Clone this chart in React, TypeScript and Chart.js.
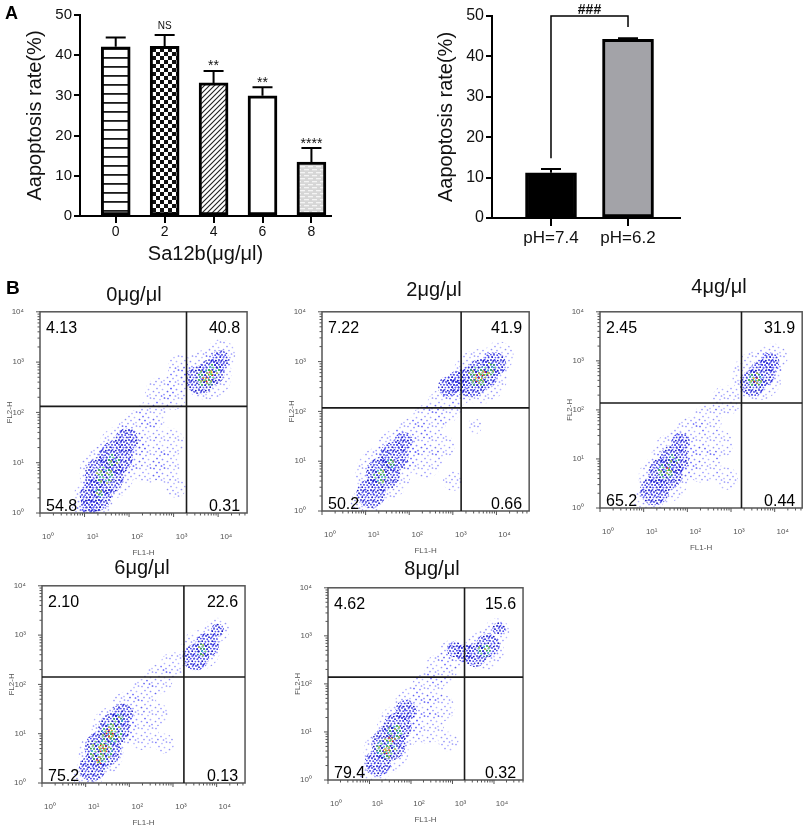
import React, { useEffect, useRef } from "react";
import { Chart, registerables } from "chart.js";
Chart.register(...registerables);

// ---------------- Panel A data ----------------
const doseLabels = ["0", "2", "4", "6", "8"];
const doseMeans = [42.1, 42.2, 33.1, 29.9, 13.4];
const doseSD = [2.3, 2.8, 3.0, 2.1, 3.5];
const doseSig = ["", "NS", "**", "**", "****"];
const phLabels = ["pH=7.4", "pH=6.2"];
const phMeans = [11.2, 44.2];
const phSD = [0.9, 0.3];
const phBracketLevels = [50, 14.8, 47.3]; // bracket height, left leg end, right leg end
const phBracketText = "###";

// ---------------- Panel B data (log10 units) ----------------
const flowTitles = ["0μg/μl", "2μg/μl", "4μg/μl", "6μg/μl", "8μg/μl"];
const gateFL1 = [3.29, 3.19, 3.24, 3.25, 3.29];
const gateFL2 = [2.12, 2.07, 2.14, 2.15, 2.14];
const pctUL = ["4.13", "7.22", "2.45", "2.10", "4.62"];
const pctUR = ["40.8", "41.9", "31.9", "22.6", "15.6"];
const pctLL = ["54.8", "50.2", "65.2", "75.2", "79.4"];
const pctLR = ["0.31", "0.66", "0.44", "0.13", "0.32"];

// cloud regions: [FL1 log, FL2 log, radius]
const cloudSparse = [
  [[1.2,0.3,16],[1.5,0.8,22],[1.85,1.25,20],[2.2,1.65,16],[2.5,1.95,12],[2.4,1.0,16],[2.8,0.9,12],[2.9,1.4,12],[3.0,2.3,10],[3.1,2.65,10],[1.0,0.1,10],[3.05,0.5,8],[2.7,2.4,12],[3.15,2.9,10],[3.75,2.75,20],[4.05,3.15,12]],
  [[1.0,0.15,12],[1.4,0.75,22],[1.75,1.2,18],[2.1,1.5,15],[2.45,1.8,14],[2.8,2.1,14],[3.1,2.4,12],[2.35,1.0,14],[2.75,1.3,10],[3.0,0.6,8],[3.62,2.7,22],[4.05,3.1,12],[3.5,1.7,6]],
  [[1.1,0.15,12],[1.45,0.6,20],[1.75,1.05,20],[2.05,1.5,14],[2.45,1.8,12],[2.9,2.2,12],[2.35,0.9,15],[2.7,1.3,12],[2.9,0.6,9],[3.6,2.7,20],[3.95,3.05,12]],
  [[1.05,0.15,12],[1.35,0.6,18],[1.65,1.1,18],[1.95,1.5,14],[2.3,1.8,12],[2.65,2.1,12],[3.0,2.4,10],[2.3,1.0,13],[2.6,1.4,10],[2.8,0.8,8],[3.62,2.7,16],[4.0,3.1,10]],
  [[1.1,0.15,12],[1.4,0.6,18],[1.72,1.1,18],[2.05,1.55,15],[2.4,1.9,13],[2.72,2.3,13],[3.0,2.6,12],[2.4,1.1,13],[2.72,1.5,11],[2.9,0.8,8],[3.76,2.7,16],[4.07,3.1,10]],
];
const cloudDense = [
  [[1.25,0.35,12],[1.45,0.75,15],[1.7,1.1,13],[1.95,1.45,9],[1.15,0.15,8],[3.6,2.65,11],[3.85,2.8,10],[4.05,3.05,7]],
  [[1.12,0.35,11],[1.4,0.75,13],[1.65,1.1,11],[1.87,1.4,7],[2.9,2.5,8],[3.1,2.6,8],[3.42,2.6,12],[3.68,2.75,12],[3.95,2.95,9]],
  [[1.25,0.35,11],[1.5,0.7,13],[1.7,1.0,11],[1.85,1.35,7],[3.5,2.55,10],[3.72,2.75,10],[3.9,2.98,7]],
  [[1.15,0.3,10],[1.4,0.7,14],[1.65,1.1,12],[1.85,1.4,8],[3.52,2.55,10],[3.78,2.8,9],[4.02,3.1,5]],
  [[1.2,0.35,10],[1.46,0.75,13],[1.67,1.1,11],[1.88,1.45,8],[3.05,2.72,6],[3.3,2.64,7],[3.55,2.6,9],[3.85,2.8,9],[4.12,3.15,5]],
];
const cloudCore = [
  [[1.45,0.75,7],[1.65,1.05,5],[1.3,0.4,4],[3.72,2.68,7],[3.9,2.85,5]],
  [[1.35,0.7,6],[1.55,0.95,4],[3.58,2.7,8],[3.85,2.85,5]],
  [[1.5,0.75,6],[1.7,1.0,4],[3.55,2.62,6]],
  [[1.35,0.65,9],[1.6,1.0,8],[1.75,1.3,4],[3.67,2.7,5]],
  [[1.41,0.65,8],[1.62,1.0,6],[3.76,2.7,5]],
];
const cloudHot = [
  [[3.72,2.66,3],[3.85,2.78,2.5]],
  [[3.58,2.68,4],[3.74,2.75,3]],
  [[3.55,2.6,3],[1.55,0.8,2]],
  [[1.4,0.7,4],[1.55,1.0,4],[1.3,0.45,3]],
  [[1.41,0.6,3],[1.52,0.85,3]],
];

// ---------------- layout / style ----------------
const FLOW_BOX = [
  { left: 40, top: 304, w: 210, h: 209, xMax: 4.65, tx: 134, ty: 294 },
  { left: 322, top: 304, w: 210, h: 207, xMax: 4.75, tx: 434, ty: 289 },
  { left: 600, top: 304, w: 206, h: 204, xMax: 4.63, tx: 719, ty: 286 },
  { left: 42, top: 578, w: 206, h: 205, xMax: 4.65, tx: 142, ty: 567 },
  { left: 328, top: 580, w: 200, h: 200, xMax: 4.7, tx: 432, ty: 568 },
];
const LAYER_SCALE = { sparse: 1.25, dense: 1.32, core: 1.3, hot: 1.2 };
const SUP = ["⁰", "¹", "²", "³", "⁴"];

// speckle tiles (style)
const DOT_POS_10 = [[1, 1], [4.5, 0.8], [7.8, 1.6], [2.6, 3.4], [6, 3], [9, 4.2], [0.8, 5.6], [4, 5.8], [7.2, 6.2], [2.2, 8.2], [5.4, 8.6], [8.6, 8.4], [3.3, 1.9]];
const DENSE_COLS = ["#2a2ad6", "#4a4af2", "#1c1cc0", "#6262f8", "#3b3be0", "#2020cc", "#5050ee"];
const CORE_COLS = ["#3cd23c", "#2a2ad8", "#40c8d0", "#70e070", "#1c1cc0", "#c8e040", "#38b838"];
const SPARSE_POS = [[2, 1.5], [8, 2.5], [12.5, 1], [5, 5.5], [10.5, 6.5], [1.5, 8.5], [7, 9.5], [12, 11.5], [4, 12.5], [9.5, 13]];

function makePattern(w: number, h: number, draw: (g: CanvasRenderingContext2D) => void) {
  const c = document.createElement("canvas");
  c.width = w;
  c.height = h;
  const g = c.getContext("2d")!;
  draw(g);
  return g.createPattern(c, "repeat")!;
}

function dotTile(w: number, h: number, pos: number[][], cols: string[], r: number) {
  return makePattern(w, h, (g) => {
    pos.forEach(([x, y], j) => {
      g.fillStyle = cols[j % cols.length];
      g.beginPath();
      g.arc(x, y, r, 0, Math.PI * 2);
      g.fill();
    });
  });
}

function barPatterns() {
  const stripes = makePattern(8, 9, (g) => {
    g.fillStyle = "#fff"; g.fillRect(0, 0, 8, 9);
    g.fillStyle = "#1a1a1a"; g.fillRect(0, 3, 8, 1.8);
  });
  const checker = makePattern(8, 8, (g) => {
    g.fillStyle = "#fff"; g.fillRect(0, 0, 8, 8);
    g.fillStyle = "#111"; g.fillRect(0, 0, 4, 4); g.fillRect(4, 4, 4, 4);
  });
  const diag = makePattern(5, 5, (g) => {
    g.fillStyle = "#fff"; g.fillRect(0, 0, 5, 5);
    g.strokeStyle = "#222"; g.lineWidth = 1.1;
    g.beginPath();
    g.moveTo(-1, 6); g.lineTo(6, -1);
    g.moveTo(-1, 1); g.lineTo(1, -1);
    g.moveTo(4, 6); g.lineTo(6, 4);
    g.stroke();
  });
  const brick = makePattern(8, 6, (g) => {
    g.fillStyle = "#d6d6d6"; g.fillRect(0, 0, 8, 6);
    g.fillStyle = "#f4f4f4";
    g.fillRect(0, 1, 5, 1.3); g.fillRect(4, 4, 4, 1.3); g.fillRect(0, 4, 1, 1.3);
  });
  return [stripes, checker, diag, "#ffffff", brick];
}

function errorPlugin(means: number[], sds: number[], sig: string[] | null) {
  return {
    id: "errbars",
    afterDatasetsDraw(chart: any) {
      const { ctx } = chart;
      const x = chart.scales.x, y = chart.scales.y;
      ctx.save();
      ctx.strokeStyle = "#000";
      ctx.lineWidth = 2;
      means.forEach((m, i) => {
        const px = x.getPixelForValue(i);
        const y0 = y.getPixelForValue(m);
        const y1 = y.getPixelForValue(m + sds[i]);
        ctx.beginPath();
        ctx.moveTo(px, y0); ctx.lineTo(px, y1);
        ctx.moveTo(px - 10, y1); ctx.lineTo(px + 10, y1);
        ctx.stroke();
        if (sig && sig[i]) {
          const star = sig[i].includes("*");
          ctx.font = star ? "14px Arial" : "10px Arial";
          ctx.fillStyle = "#111";
          ctx.textAlign = "center";
          ctx.textBaseline = "alphabetic";
          ctx.fillText(sig[i], px, star ? y1 - 0.5 : y1 - 6.5);
        }
      });
      ctx.restore();
    },
  };
}

const bracketPlugin = {
  id: "bracket",
  afterDatasetsDraw(chart: any) {
    const { ctx } = chart;
    const x = chart.scales.x, y = chart.scales.y;
    const x0 = x.getPixelForValue(0), x1 = x.getPixelForValue(1);
    const yb = y.getPixelForValue(phBracketLevels[0]);
    ctx.save();
    ctx.strokeStyle = "#000";
    ctx.lineWidth = 1.5;
    ctx.beginPath();
    ctx.moveTo(x0, y.getPixelForValue(phBracketLevels[1]));
    ctx.lineTo(x0, yb);
    ctx.lineTo(x1, yb);
    ctx.lineTo(x1, y.getPixelForValue(phBracketLevels[2]));
    ctx.stroke();
    ctx.font = "bold 14px Arial";
    ctx.fillStyle = "#111";
    ctx.textAlign = "center";
    ctx.textBaseline = "alphabetic";
    ctx.fillText(phBracketText, (x0 + x1) / 2, yb - 2);
    ctx.restore();
  },
};

function barConfig(opts: any) {
  const { labels, means, sds, colors, thickness, xMin, xMax, tickFont, labelFont, padding, yWidth, xHeight, xTitle, sig, extra, tickLen, xPad } = opts;
  return {
    type: "bar",
    data: {
      datasets: [
        {
          data: means.map((v: number, i: number) => ({ x: i, y: v })),
          backgroundColor: colors,
          borderColor: "#000",
          borderWidth: 3,
          borderSkipped: false,
          barThickness: thickness,
        },
      ],
    },
    options: {
      responsive: false,
      animation: false,
      events: [],
      layout: { padding, autoPadding: false },
      plugins: { legend: { display: false }, tooltip: { enabled: false } },
      scales: {
        x: {
          type: "linear",
          min: xMin,
          max: xMax,
          offset: false,
          afterBuildTicks: (s: any) => { s.ticks = labels.map((_: string, i: number) => ({ value: i })); },
          afterFit: (s: any) => { s.height = xHeight; },
          ticks: { autoSkip: false, maxRotation: 0, padding: xPad, color: "#111", font: { family: "Arial", size: labelFont }, callback: (v: number) => labels[v] ?? "" },
          grid: { drawOnChartArea: false, drawTicks: true, tickLength: tickLen, color: "#000", lineWidth: 2, offset: false },
          border: { display: true, color: "#000", width: 2 },
          title: xTitle
            ? { display: true, text: xTitle, color: "#111", font: { family: "Arial", size: 20 }, padding: { top: 0, bottom: 4 } }
            : { display: false },
        },
        y: {
          min: 0,
          max: 50,
          afterFit: (s: any) => { s.width = yWidth; },
          ticks: { stepSize: 10, padding: 2, color: "#111", font: { family: "Arial", size: tickFont } },
          grid: { drawOnChartArea: false, drawTicks: true, tickLength: 6, color: "#000", lineWidth: 2 },
          border: { display: true, color: "#000", width: 2 },
          title: { display: true, text: "Aapoptosis rate(%)", color: "#111", font: { family: "Arial", size: 20 }, padding: { top: opts.yTitlePad, bottom: 0 } },
        },
      },
    },
    plugins: [errorPlugin(means, sds, sig), ...(extra ? [extra] : [])],
  };
}

function DoseChart() {
  const ref = useRef<HTMLCanvasElement>(null);
  useEffect(() => {
    const chart = new Chart(ref.current!, barConfig({
      labels: doseLabels, means: doseMeans, sds: doseSD, colors: barPatterns(), thickness: 29,
      xMin: -0.73, xMax: 4.4, tickFont: 15, labelFont: 14, padding: { left: 20, top: 15, right: 14, bottom: 0 },
      yWidth: 60, xHeight: 54, xTitle: "Sa12b(μg/μl)", sig: doseSig, tickLen: 7, xPad: 1, yTitlePad: 3,
    }) as any);
    return () => chart.destroy();
  }, []);
  return <canvas ref={ref} width={345} height={270} style={{ position: "absolute", left: 0, top: 0 }} />;
}

function PhChart() {
  const ref = useRef<HTMLCanvasElement>(null);
  useEffect(() => {
    const chart = new Chart(ref.current!, barConfig({
      labels: phLabels, means: phMeans, sds: phSD, colors: ["#000000", "#a3a3a8"], thickness: 51,
      xMin: -0.766, xMax: 1.675, tickFont: 16, labelFont: 17, padding: { left: 22, top: 16, right: 10, bottom: 0 },
      yWidth: 60, xHeight: 40, xTitle: null, sig: null, extra: bracketPlugin, tickLen: 8, xPad: 2, yTitlePad: 2,
    }) as any);
    return () => chart.destroy();
  }, []);
  return <canvas ref={ref} width={280} height={258} style={{ position: "absolute", left: 410, top: 0 }} />;
}

function decadeTicks(max: number) {
  const t: { value: number }[] = [];
  for (let n = 0; n <= 4; n++) {
    for (let k = 1; k <= 9; k++) {
      const v = n + Math.log10(k);
      if (v <= max + 1e-9) t.push({ value: v });
    }
  }
  return t;
}

function decadeLabel(v: number) {
  return Number.isInteger(v) && v <= 4 ? "10" + SUP[v] : "";
}

function flowPlugin(i: number) {
  return {
    id: "flowdeco" + i,
    afterDatasetsDraw(chart: any) {
      const { ctx, chartArea: a } = chart;
      const x = chart.scales.x, y = chart.scales.y;
      ctx.save();
      ctx.strokeStyle = "#555";
      ctx.lineWidth = 1;
      ctx.beginPath();
      x.ticks.forEach((t: any) => {
        const px = x.getPixelForValue(t.value);
        const len = Number.isInteger(t.value) ? 4 : 2.5;
        ctx.moveTo(px, a.bottom); ctx.lineTo(px, a.bottom + len);
      });
      y.ticks.forEach((t: any) => {
        const py = y.getPixelForValue(t.value);
        const len = Number.isInteger(t.value) ? 4 : 2.5;
        ctx.moveTo(a.left, py); ctx.lineTo(a.left - len, py);
      });
      ctx.stroke();
      ctx.strokeStyle = "#555";
      ctx.lineWidth = 1.5;
      ctx.strokeRect(a.left, a.top, a.right - a.left, a.bottom - a.top);
      const gx = x.getPixelForValue(gateFL1[i]);
      const gy = y.getPixelForValue(gateFL2[i]);
      ctx.strokeStyle = "#1a1a1a";
      ctx.lineWidth = 1.6;
      ctx.beginPath();
      ctx.moveTo(gx, a.top); ctx.lineTo(gx, a.bottom);
      ctx.moveTo(a.left, gy); ctx.lineTo(a.right, gy);
      ctx.stroke();
      ctx.font = "16px Arial";
      ctx.fillStyle = "#000";
      ctx.textBaseline = "alphabetic";
      ctx.textAlign = "left";
      ctx.fillText(pctUL[i], a.left + 6, a.top + 21);
      ctx.fillText(pctLL[i], a.left + 6, a.bottom - 2.5);
      ctx.textAlign = "right";
      ctx.fillText(pctUR[i], a.right - 7, a.top + 21);
      ctx.fillText(pctLR[i], a.right - 7, a.bottom - 2.5);
      ctx.restore();
    },
  };
}

function FlowChart({ i }: { i: number }) {
  const ref = useRef<HTMLCanvasElement>(null);
  const box = FLOW_BOX[i];
  useEffect(() => {
    const sparse = dotTile(14, 14, SPARSE_POS, ["rgba(80,80,255,0.6)", "rgba(110,110,255,0.5)", "rgba(60,60,235,0.55)"], 0.85);
    const dense = dotTile(10, 10, DOT_POS_10, DENSE_COLS, 0.9);
    const core = dotTile(10, 10, DOT_POS_10, CORE_COLS, 0.9);
    const hot = dotTile(6, 6, [[1, 1], [3.8, 1.4], [1.6, 3.6], [4.6, 4.4], [3, 3]], ["#ff2a1a", "#ffc020", "#f0e23a", "#e83020", "#48c848"], 0.85);
    const ds = (arr: number[][], bg: any, k: number) => ({
      data: arr.map(([x, y, r]) => ({ x, y, r: r * k })),
      backgroundColor: bg,
      borderWidth: 0,
      borderColor: "rgba(0,0,0,0)",
      clip: 0,
    });
    const axisFont = { family: "Arial", size: 8 };
    const chart = new Chart(ref.current!, {
      type: "bubble",
      data: {
        datasets: [
          ds(cloudHot[i], hot, LAYER_SCALE.hot),
          ds(cloudCore[i], core, LAYER_SCALE.core),
          ds(cloudDense[i], dense, LAYER_SCALE.dense),
          ds(cloudSparse[i], sparse, LAYER_SCALE.sparse),
        ],
      },
      options: {
        responsive: false,
        animation: false,
        events: [],
        layout: { padding: { top: 5, right: 6, left: 0, bottom: 0 }, autoPadding: false },
        plugins: { legend: { display: false }, tooltip: { enabled: false } },
        scales: {
          x: {
            type: "linear",
            min: 0,
            max: box.xMax,
            afterBuildTicks: (s: any) => { s.ticks = decadeTicks(box.xMax); },
            afterFit: (s: any) => { s.height = 50; },
            ticks: { autoSkip: false, maxRotation: 0, padding: 11, labelOffset: 8, color: "#555", font: axisFont, callback: (v: number) => decadeLabel(v) },
            grid: { display: false },
            border: { display: false },
            title: { display: true, text: "FL1-H", color: "#555", font: axisFont, padding: { top: 0, bottom: 5 } },
          },
          y: {
            type: "linear",
            min: 0,
            max: 4,
            afterBuildTicks: (s: any) => { s.ticks = decadeTicks(4); },
            afterFit: (s: any) => { s.width = 42; },
            ticks: { autoSkip: false, padding: 8, color: "#555", font: axisFont, callback: (v: number) => decadeLabel(v) },
            grid: { display: false },
            border: { display: false },
            title: { display: true, text: "FL2-H", color: "#555", font: axisFont, padding: { top: 7, bottom: 0 } },
          },
        },
      },
      plugins: [flowPlugin(i)],
    } as any);
    return () => chart.destroy();
  }, []);
  return (
    <canvas
      ref={ref}
      width={box.w + 48}
      height={box.h + 55}
      style={{ position: "absolute", left: box.left - 42, top: box.top - 5 }}
    />
  );
}

export default function App() {
  return (
    <div
      style={{
        position: "absolute",
        left: 0,
        top: 0,
        width: 809,
        height: 829,
        overflow: "hidden",
        background: "#fff",
        fontFamily: "Arial, 'Liberation Sans', sans-serif",
      }}
    >
      <DoseChart />
      <PhChart />
      {FLOW_BOX.map((_, i) => (
        <FlowChart key={i} i={i} />
      ))}
      {FLOW_BOX.map((b, i) => (
        <div
          key={"t" + i}
          style={{ position: "absolute", left: b.tx, top: b.ty, transform: "translate(-50%,-50%)", fontSize: 20, lineHeight: 1, whiteSpace: "nowrap", color: "#111" }}
        >
          {flowTitles[i]}
        </div>
      ))}
      <div style={{ position: "absolute", left: 5, top: 4, fontSize: 18, fontWeight: "bold", lineHeight: 1 }}>A</div>
      <div style={{ position: "absolute", left: 6, top: 278, fontSize: 19, fontWeight: "bold", lineHeight: 1 }}>B</div>
    </div>
  );
}
